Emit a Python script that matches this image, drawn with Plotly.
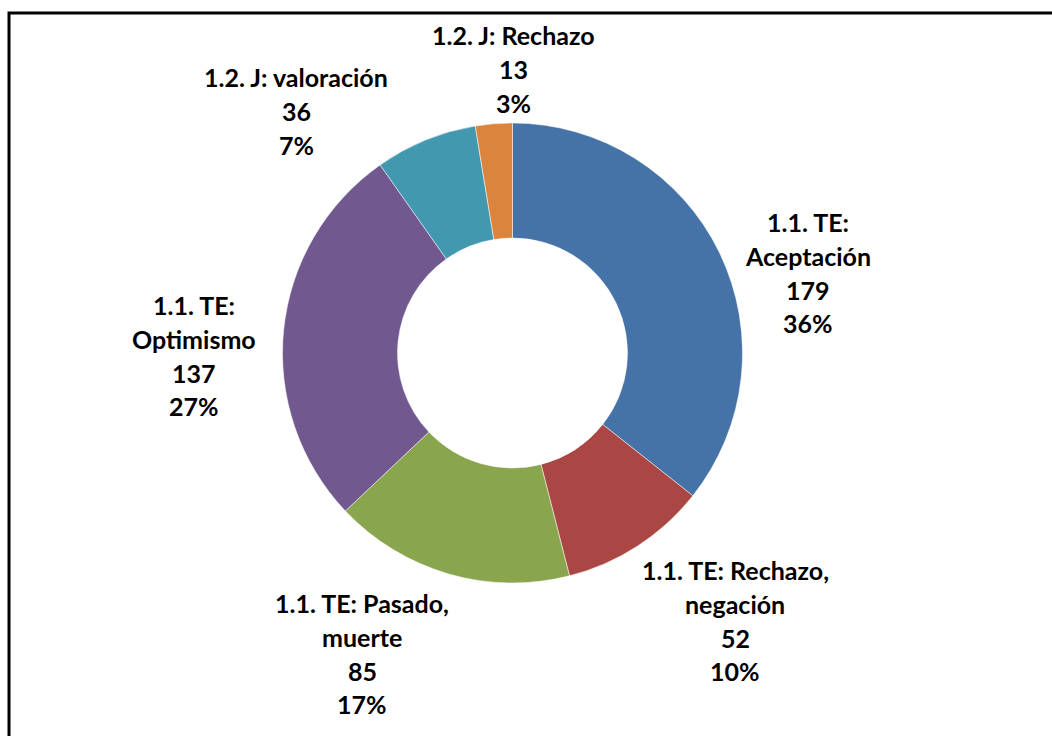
import plotly.graph_objects as go

W, H = 1052, 736

# Data
categories = [
    "1.1. TE: Aceptación",
    "1.1. TE: Rechazo, negación",
    "1.1. TE: Pasado, muerte",
    "1.1. TE: Optimismo",
    "1.2. J: valoración",
    "1.2. J: Rechazo",
]
values = [179, 52, 85, 137, 36, 13]
label_lines = [
    ["1.1. TE:", "Aceptación"],
    ["1.1. TE: Rechazo,", "negación"],
    ["1.1. TE: Pasado,", "muerte"],
    ["1.1. TE:", "Optimismo"],
    ["1.2. J: valoración"],
    ["1.2. J: Rechazo"],
]
colors = ["#4572A7", "#AA4643", "#89A54E", "#71588F", "#4198AF", "#DB843D"]

# Label anchors (pixel centre x, first-line centre y)
label_pos = [(808, 222), (735, 570), (362, 603), (194, 305), (296, 77), (513, 35)]
line_gap = 33.8

total = sum(values)

fig = go.Figure(go.Pie(
    labels=categories,
    values=values,
    hole=0.5,
    sort=False,
    direction="clockwise",
    rotation=0,
    marker=dict(colors=colors, line=dict(color="white", width=0.5)),
    textinfo="none",
    hoverinfo="label+value+percent",
    showlegend=False,
    domain=dict(x=[(512.5 - 230) / W, (512.5 + 230) / W],
                y=[1 - 583 / H, 1 - 123 / H]),
))

annotations = []
for lines, v, (px, py) in zip(label_lines, values, label_pos):
    all_lines = lines + [str(v), f"{round(v / total * 100)}%"]
    for i, t in enumerate(all_lines):
        annotations.append(dict(
            x=px / W, y=1 - (py + i * line_gap) / H,
            xref="paper", yref="paper",
            text=f"<b>{t}</b>", showarrow=False,
            xanchor="center", yanchor="middle",
            font=dict(family="Lato", size=25, color="black"),
        ))

fig.update_layout(
    width=W, height=H,
    margin=dict(l=0, r=0, t=0, b=0),
    paper_bgcolor="white",
    plot_bgcolor="white",
    annotations=annotations,
    shapes=[dict(type="rect", xref="paper", yref="paper",
                 x0=9 / W, x1=1.05, y0=-0.05, y1=1 - 13 / H,
                 line=dict(color="black", width=3))],
)

fig.write_html("out.html", config={"displayModeBar": False})

# remove the browser's default body margin so the figure sits at (0, 0)
with open("out.html", encoding="utf-8") as f:
    html = f.read()
html = html.replace("<body>", '<body style="margin:0;overflow:hidden">', 1)
with open("out.html", "w", encoding="utf-8") as f:
    f.write(html)
